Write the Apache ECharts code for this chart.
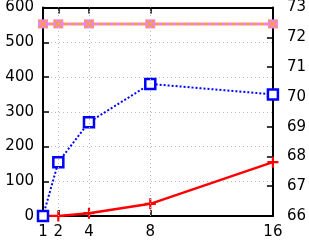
<!DOCTYPE html>
<html><head><meta charset="utf-8">
<script src="https://cdn.jsdelivr.net/npm/echarts@6/dist/echarts.min.js"></script>
<style>html,body{margin:0;padding:0;background:#fff}#c{width:309px;height:240px}</style>
</head><body><div id="c"></div>
<script>
const xValues = [1, 2, 4, 8, 16];
const redValues = [0, 0, 8, 35, 155];
const blueValues = [0, 155, 270, 380, 350];
const rightValues = [72.45, 72.45, 72.45, 72.45, 72.45];
const leftTicks = [0, 100, 200, 300, 400, 500, 600];
const rightTicks = [66, 67, 68, 69, 70, 71, 72, 73];
const gridX = [2, 4, 8];

const pair = (vals) => xValues.map((x, i) => [x, vals[i]]);
const font = {fontFamily: 'DejaVu Sans, sans-serif', fontSize: 15, color: '#000'};
const plus = 'path://M4,0H6V4H10V6H6V10H4V6H0V4H4Z';
const cross = 'path://M1,0L5,4L9,0L10,1L6,5L10,9L9,10L5,6L1,10L0,9L4,5L0,1Z';

const chart = echarts.init(document.getElementById('c'), null, {renderer: 'canvas'});
chart.setOption({
  animation: false,
  grid: {left: 43, right: 34, top: 7, bottom: 24},
  xAxis: [{
    type: 'value', min: 1, max: 16, position: 'bottom',
    axisLine: {show: true, lineStyle: {color: '#000', width: 2}},
    axisTick: {show: true, inside: true, length: 6, lineStyle: {color: '#000', width: 1.5}, customValues: xValues},
    axisLabel: Object.assign({margin: 9, customValues: xValues}, font),
    splitLine: {show: false}
  }, {
    type: 'value', min: 1, max: 16, position: 'top',
    axisLine: {show: true, lineStyle: {color: '#000', width: 2}},
    axisTick: {show: true, inside: true, length: 6, lineStyle: {color: '#000', width: 1.5}, customValues: xValues},
    axisLabel: {show: false},
    splitLine: {show: false}
  }],
  yAxis: [{
    type: 'value', min: 0, max: 600, interval: 100, position: 'left',
    axisLine: {show: true, lineStyle: {color: '#000', width: 2}},
    axisTick: {show: true, inside: true, length: 6, lineStyle: {color: '#000', width: 1.5}},
    axisLabel: Object.assign({margin: 9}, font),
    splitLine: {show: true, lineStyle: {color: '#bbb', type: [1, 3], width: 1}}
  }, {
    type: 'value', min: 66, max: 73, interval: 1, position: 'right',
    axisLine: {show: true, lineStyle: {color: '#000', width: 2}},
    axisTick: {show: true, inside: true, length: 6, lineStyle: {color: '#000', width: 1.5}},
    axisLabel: Object.assign({margin: 14}, font),
    splitLine: {show: false}
  }],
  series: [{
    type: 'line', data: [], xAxisIndex: 0, yAxisIndex: 0, silent: true,
    markLine: {symbol: 'none', silent: true, label: {show: false},
      lineStyle: {color: '#bbb', type: [1, 3], width: 1},
      data: gridX.map(v => ({xAxis: v}))}
  }, {
    type: 'line', name: 'violet', data: pair(rightValues), xAxisIndex: 0, yAxisIndex: 1,
    symbol: 'rect', symbolSize: [10, 9],
    itemStyle: {color: '#ee82ee'},
    lineStyle: {color: '#ee82ee', width: 3}
  }, {
    type: 'line', name: 'orange', data: pair(rightValues), xAxisIndex: 0, yAxisIndex: 1,
    symbol: cross, symbolSize: 9,
    itemStyle: {color: '#ffa500'},
    lineStyle: {color: '#ffa500', width: 2, type: [4, 3]}
  }, {
    type: 'line', name: 'red', data: pair(redValues), xAxisIndex: 0, yAxisIndex: 0,
    symbol: plus, symbolSize: 11,
    itemStyle: {color: '#ff0000'},
    lineStyle: {color: '#ff0000', width: 2.5}
  }, {
    type: 'line', name: 'blue', data: pair(blueValues), xAxisIndex: 0, yAxisIndex: 0,
    symbol: 'rect', symbolSize: 10, showAllSymbol: true,
    itemStyle: {color: '#fff', borderColor: '#0000ff', borderWidth: 2.5},
    lineStyle: {color: '#0000ff', width: 2, type: [2, 2]}
  }]
});
</script></body></html>
